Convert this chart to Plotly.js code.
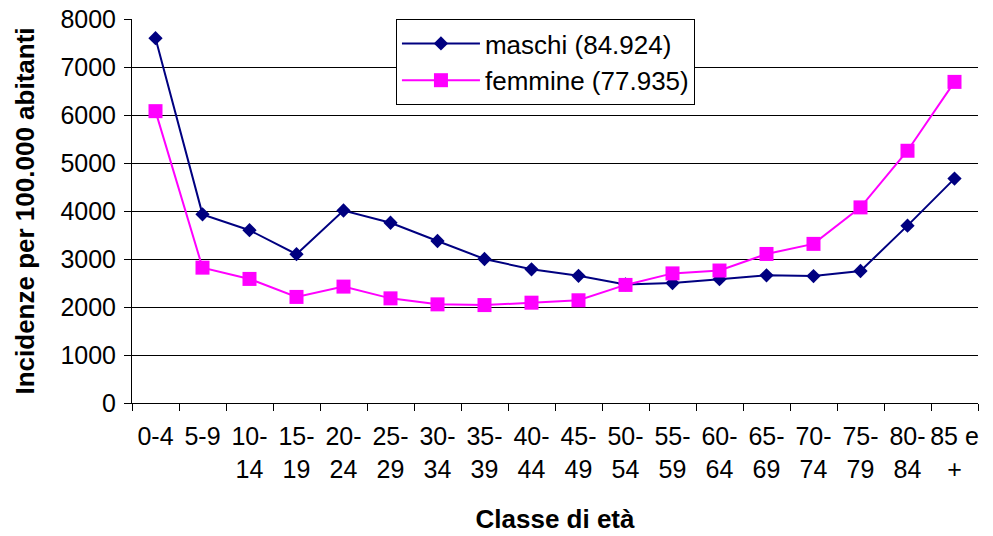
<!DOCTYPE html>
<html>
<head>
<meta charset="utf-8">
<script src="https://cdn.plot.ly/plotly-3.0.1.min.js"></script>
<style>html,body{margin:0;padding:0;background:#fff;}#chart{width:993px;height:536px;}</style>
</head>
<body>
<div id="chart"></div>
<script>
const categories = ["0-4","5-9","10-<br>14","15-<br>19","20-<br>24","25-<br>29","30-<br>34","35-<br>39","40-<br>44","45-<br>49","50-<br>54","55-<br>59","60-<br>64","65-<br>69","70-<br>74","75-<br>79","80-<br>84","85 e<br>+"];
const maschi = [7600,3930,3600,3100,4010,3755,3375,3000,2785,2650,2470,2500,2580,2660,2645,2750,3695,4675];
const femmine = [6080,2820,2585,2210,2425,2180,2055,2040,2090,2140,2460,2700,2760,3105,3315,4075,5255,6690];
const nameM = "maschi (84.924)";
const nameF = "femmine (77.935)";

const FONT = "Arial, 'Liberation Sans', sans-serif";

const traces = [
  {x: categories, y: maschi, name: nameM, type: "scatter", mode: "lines+markers",
   line: {color: "#000080", width: 2}, marker: {symbol: "diamond", size: 11, color: "#000080"}},
  {x: categories, y: femmine, name: nameF, type: "scatter", mode: "lines+markers",
   line: {color: "#FF00FF", width: 2}, marker: {symbol: "square", size: 14, color: "#FF00FF"}}
];

const layout = {
  width: 993, height: 536,
  margin: {l: 132, r: 15, t: 19, b: 133},
  paper_bgcolor: "#fff", plot_bgcolor: "#fff",
  font: {family: FONT, color: "#000", size: 25},
  showlegend: true,
  legend: {x: 0.312, y: 1, xanchor: "left", yanchor: "top", bgcolor: "#fff",
           bordercolor: "#000", borderwidth: 1, font: {size: 26, family: FONT},
           itemwidth: 78, tracegroupgap: 0},
  xaxis: {
    type: "category", range: [-0.5, 17.5],
    showgrid: false, showline: true, linecolor: "#000", linewidth: 1,
    ticks: "outside", tickson: "boundaries", ticklen: 7, tickcolor: "#000",
    tickfont: {size: 25, family: FONT}, tickangle: 0, ticklabelstandoff: 11,
    title: {text: "Classe di età", font: {size: 26, family: FONT, weight: "bold"}, standoff: 28},
    fixedrange: true
  },
  yaxis: {
    range: [0, 8000], dtick: 1000, tick0: 0,
    showgrid: true, gridcolor: "#000", gridwidth: 1,
    showline: true, linecolor: "#000", linewidth: 1, zeroline: false,
    ticks: "outside", ticklen: 7, tickcolor: "#000",
    tickfont: {size: 25, family: FONT}, ticklabelstandoff: 3,
    title: {text: "Incidenze per 100.000 abitanti", font: {size: 26, family: FONT, weight: "bold"}, standoff: 18},
    fixedrange: true
  }
};

Plotly.newPlot("chart", traces, layout, {displayModeBar: false, staticPlot: true});
</script>
</body>
</html>
